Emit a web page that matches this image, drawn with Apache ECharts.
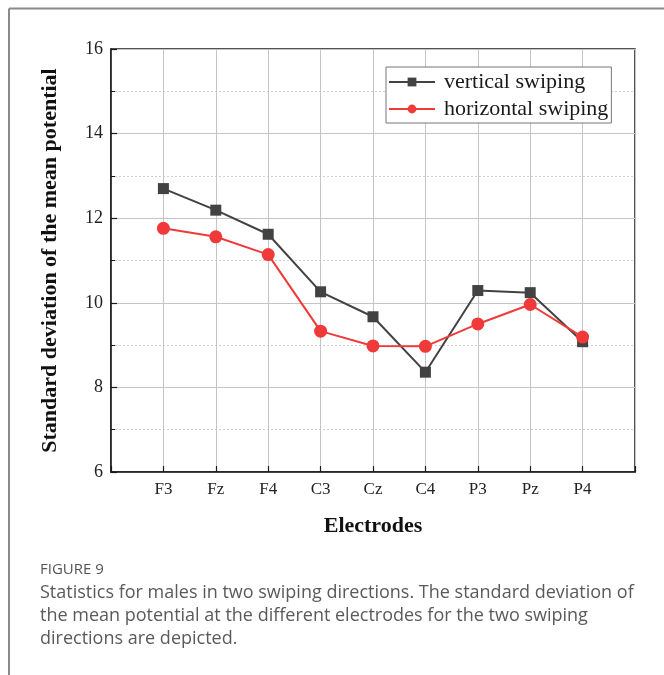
<!DOCTYPE html>
<html>
<head>
<meta charset="utf-8">
<style>
  html, body { margin: 0; padding: 0; background: #fff; }
  #chart { width: 664px; height: 675px; }
</style>
<script src="https://cdn.jsdelivr.net/npm/echarts@6/dist/echarts.min.js"></script>
</head>
<body>
<div id="chart"></div>
<script>
// Electrode sites along the x axis
const electrodes = ['F3', 'Fz', 'F4', 'C3', 'Cz', 'C4', 'P3', 'Pz', 'P4'];
// Standard deviation of the mean potential per electrode
const verticalSwiping   = [12.70, 12.19, 11.62, 10.26, 9.67, 8.36, 10.29, 10.24, 9.08];
const horizontalSwiping = [11.76, 11.56, 11.14, 9.33, 8.98, 8.97, 9.50, 9.96, 9.19];
// Y axis range and tick step
const yMin = 6, yMax = 16, yStep = 2;

const serif = '"Liberation Serif", "Times New Roman", serif';
const sans = '"Open Sans", "Noto Sans", sans-serif';

// Electrodes sit on integer positions 1..9 of a 0..10 value axis
const toPoints = vals => vals.map((v, i) => [i + 1, v]);

const chart = echarts.init(document.getElementById('chart'), null, { renderer: 'canvas' });

chart.setOption({
  backgroundColor: '#fff',
  animation: false,
  grid: {
    left: 111, right: 29, top: 49, bottom: 203,
    show: true, borderColor: '#1a1a1a', borderWidth: 1.5, backgroundColor: 'transparent'
  },
  legend: {
    orient: 'vertical',
    left: 386, top: 67,
    padding: [4, 3, 3, 2],
    itemGap: 5,
    itemWidth: 46, itemHeight: 11,
    backgroundColor: '#fff',
    borderColor: '#777', borderWidth: 1, borderRadius: 0,
    textStyle: { fontFamily: serif, fontSize: 22, color: '#1a1a1a', padding: [0, 0, 0, 4] },
    data: ['vertical swiping', 'horizontal swiping']
  },
  xAxis: {
    type: 'value', min: 0, max: electrodes.length + 1, interval: 1,
    name: 'Electrodes', nameLocation: 'middle', nameGap: 43,
    nameTextStyle: { fontFamily: serif, fontSize: 22, fontWeight: 'bold', color: '#111' },
    axisLine: { show: true, lineStyle: { color: '#1a1a1a', width: 1.5 } },
    axisTick: { show: true, inside: true, length: 6, lineStyle: { color: '#1a1a1a', width: 1.2 } },
    axisLabel: {
      margin: 9, fontFamily: serif, fontSize: 17, color: '#222',
      formatter: v => (v >= 1 && v <= electrodes.length) ? electrodes[v - 1] : ''
    },
    splitLine: { show: true, lineStyle: { color: '#c4c4c4', width: 1 } }
  },
  yAxis: {
    type: 'value', min: yMin, max: yMax, interval: yStep,
    name: 'Standard deviation of the mean potential', nameLocation: 'middle', nameGap: 50,
    nameTextStyle: { fontFamily: serif, fontSize: 22, fontWeight: 'bold', color: '#111' },
    axisLine: { show: true, lineStyle: { color: '#1a1a1a', width: 1.5 } },
    axisTick: { show: true, inside: true, length: 6, lineStyle: { color: '#1a1a1a', width: 1.2 } },
    minorTick: { show: true, splitNumber: 2, length: 4, lineStyle: { color: '#1a1a1a', width: 1 } },
    axisLabel: { margin: 8, fontFamily: serif, fontSize: 18, color: '#222' },
    splitLine: { show: true, lineStyle: { color: '#c4c4c4', width: 1 } },
    minorSplitLine: { show: true, lineStyle: { color: '#d0d0d0', width: 1, type: [2, 2] } }
  },
  series: [
    {
      name: 'vertical swiping', type: 'line',
      data: toPoints(verticalSwiping),
      symbol: 'rect', symbolSize: 11,
      lineStyle: { color: '#424242', width: 2 },
      itemStyle: { color: '#424242' }
    },
    {
      name: 'horizontal swiping', type: 'line',
      data: toPoints(horizontalSwiping),
      symbol: 'circle', symbolSize: 13,
      lineStyle: { color: '#f03a3a', width: 2 },
      itemStyle: { color: '#f03a3a' }
    }
  ],
  graphic: [
    // page frame
    { type: 'line', shape: { x1: 9, y1: 8.5, x2: 664, y2: 8.5 }, style: { stroke: '#8a8a8a', lineWidth: 2 } },
    { type: 'line', shape: { x1: 9, y1: 8.5, x2: 9, y2: 675 }, style: { stroke: '#8a8a8a', lineWidth: 2 } },
    // caption
    { type: 'text', left: 40, top: 562, style: { text: 'FIGURE 9', font: '500 15px ' + sans, fill: '#555' } },
    {
      type: 'text', left: 40, top: 581,
      style: {
        text: 'Statistics for males in two swiping directions. The standard deviation of\nthe mean potential at the different electrodes for the two swiping\ndirections are depicted.',
        font: '18px ' + sans, fill: '#5a5a5a', lineHeight: 23
      }
    }
  ]
});
</script>
</body>
</html>
